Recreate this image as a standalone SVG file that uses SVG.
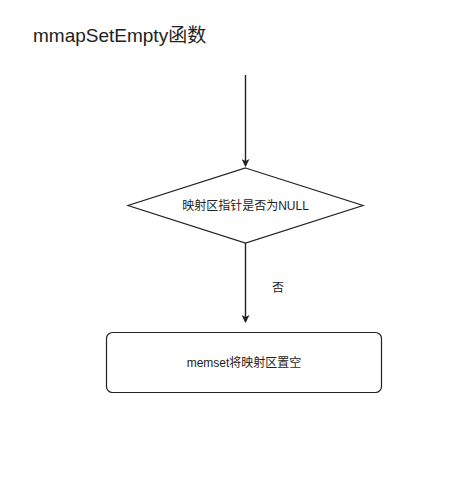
<svg xmlns="http://www.w3.org/2000/svg" width="475" height="501" viewBox="0 0 475 501">
<style>
.t{font-family:"Liberation Sans","Noto Sans CJK SC",sans-serif;fill:#222}
.s{fill:#fff;stroke:#222;stroke-width:1.2}
.c{stroke:#222;stroke-width:1.4;fill:none}
</style>
<defs>
<marker id="ah" markerWidth="8" markerHeight="8" refX="7" refY="4" orient="auto" markerUnits="userSpaceOnUse">
<path d="M0,0 L8,4 L0,8 L2,4 Z" fill="#222"/>
</marker>
</defs>
<rect width="475" height="501" fill="#fff"/>
<text class="t" x="33" y="42" font-size="19">mmapSetEmpty函数</text>
<g id="connectors">
<line class="c" x1="245.5" y1="75" x2="245.5" y2="166" marker-end="url(#ah)"/>
<line class="c" x1="245.5" y1="243" x2="245.5" y2="322" marker-end="url(#ah)"/>
<text class="t" x="272" y="292" font-size="12">否</text>
</g>
<g id="decision">
<polygon class="s" points="245.5,168 363,205.5 245.5,243 128,205.5"/>
<text class="t" x="245.5" y="210" font-size="12" text-anchor="middle">映射区指针是否为NULL</text>
</g>
<g id="memset">
<rect class="s" x="106.5" y="332.5" width="275" height="60" rx="6"/>
<text class="t" x="244" y="367" font-size="12" text-anchor="middle">memset将映射区置空</text>
</g>
</svg>
